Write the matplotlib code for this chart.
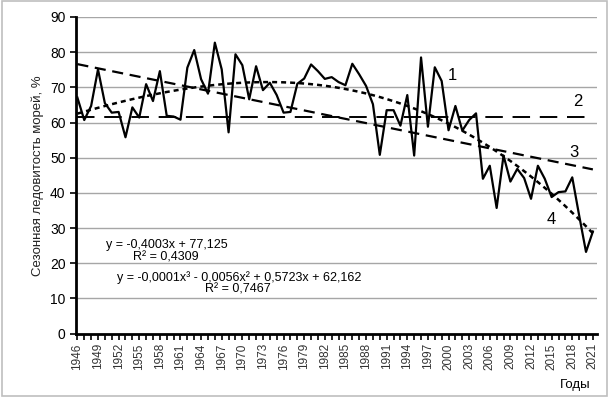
import matplotlib
matplotlib.use('Agg')
import matplotlib.pyplot as plt
import numpy as np

plt.rcParams['font.family'] = ['Liberation Sans', 'DejaVu Sans']

# Seasonal sea ice coverage, %
years = list(range(1946, 2022))
ice = [67.1, 60.7, 64.7, 75.1, 65.5, 62.8, 63.0, 55.8, 64.3, 61.4,
       70.9, 66.1, 74.6, 61.9, 61.7, 60.8, 75.6, 80.6, 72.3, 68.2,
       82.7, 75.1, 57.2, 79.4, 76.3, 66.6, 76.0, 69.2, 71.3, 67.8,
       62.8, 63.0, 71.0, 72.5, 76.5, 74.6, 72.4, 72.9, 71.5, 70.6,
       76.7, 73.7, 70.4, 65.2, 50.8, 63.5, 63.5, 59.1, 67.8, 50.6,
       78.5, 58.8, 75.7, 71.8, 57.8, 64.7, 57.7, 60.7, 62.6, 44.0,
       47.7, 35.7, 50.6, 43.2, 46.8, 44.2, 38.3, 47.7, 44.0, 38.8,
       40.2, 40.4, 44.4, 33.6, 23.2, 29.0]
tick_years = years[::3]

eq_lin = "y = -0,4003x + 77,125"
r2_lin = "R\u00b2 = 0,4309"
eq_cub = "y = -0,0001x\u00b3 - 0,0056x\u00b2 + 0,5723x + 62,162"
r2_cub = "R\u00b2 = 0,7467"

x = np.arange(len(years))
xn = x + 1  # Excel-style trendline x
lin = np.polyval(np.polyfit(xn, ice, 1), xn)
cub = np.polyval(np.polyfit(xn, ice, 3), xn)
mean = np.full(len(years), np.mean(ice))

fig = plt.figure(figsize=(6.12, 3.98), dpi=100)
ax = fig.add_axes([76 / 612, 1 - 333.5 / 398, (597 - 76) / 612, (333.5 - 17) / 398])

for v in range(10, 100, 10):
    ax.axhline(v, color='#a6a6a6', lw=1, zorder=0)

ax.plot(x, ice, color='black', lw=1.6, zorder=3)
ax.plot(x, mean, color='black', lw=1.4, dashes=(9, 5), zorder=2)
ax.plot(x, lin, color='black', lw=1.6, dashes=(5, 3), zorder=2)
ax.plot(x, cub, color='black', lw=1.8, dashes=(2, 1.6), zorder=2)

ax.set_xlim(-0.2, 75.6)
ax.set_ylim(0, 90)
ax.set_yticks(range(0, 100, 10))
ax.set_xticks(x[::3])
ax.set_xticklabels(tick_years, rotation=90, fontsize=8.5, color='#333333')
ax.set_xticks(x, minor=True)
ax.tick_params(axis='x', which='both', direction='out', length=4, width=1.2, pad=3)
ax.tick_params(axis='y', direction='out', length=4, width=1.2, labelsize=10)

for s in ['top', 'right']:
    ax.spines[s].set_visible(False)
ax.spines['left'].set_linewidth(2)
ax.spines['bottom'].set_linewidth(2)

ax.set_ylabel("Сезонная ледовитость морей, %", fontsize=9.5, color='#222222')
fig.text(575 / 612, 1 - 385 / 398, "Годы", fontsize=9.5, ha='center', va='center')

# series numbers
ax.text(54.6, 73.5, "1", fontsize=12, ha='center', va='center')
ax.text(72.8, 66.0, "2", fontsize=12, ha='center', va='center')
ax.text(72.2, 51.5, "3", fontsize=12, ha='center', va='center')
ax.text(68.9, 32.5, "4", fontsize=12, ha='center', va='center')

# trendline equations
ax.text(4.2, 25.2, eq_lin, fontsize=9, ha='left', va='center')
ax.text(12.9, 21.5, r2_lin, fontsize=9, ha='center', va='center')
ax.text(5.7, 16.0, eq_cub, fontsize=9, ha='left', va='center')
ax.text(23.3, 12.5, r2_cub, fontsize=9, ha='center', va='center')

# outer chart frame
frame = plt.Rectangle((0.004, 0.004), 0.988, 0.994, transform=fig.transFigure,
                      fill=False, edgecolor='#bfbfbf', lw=1.2)
fig.patches.append(frame)

fig.savefig('out.png', dpi=100)
